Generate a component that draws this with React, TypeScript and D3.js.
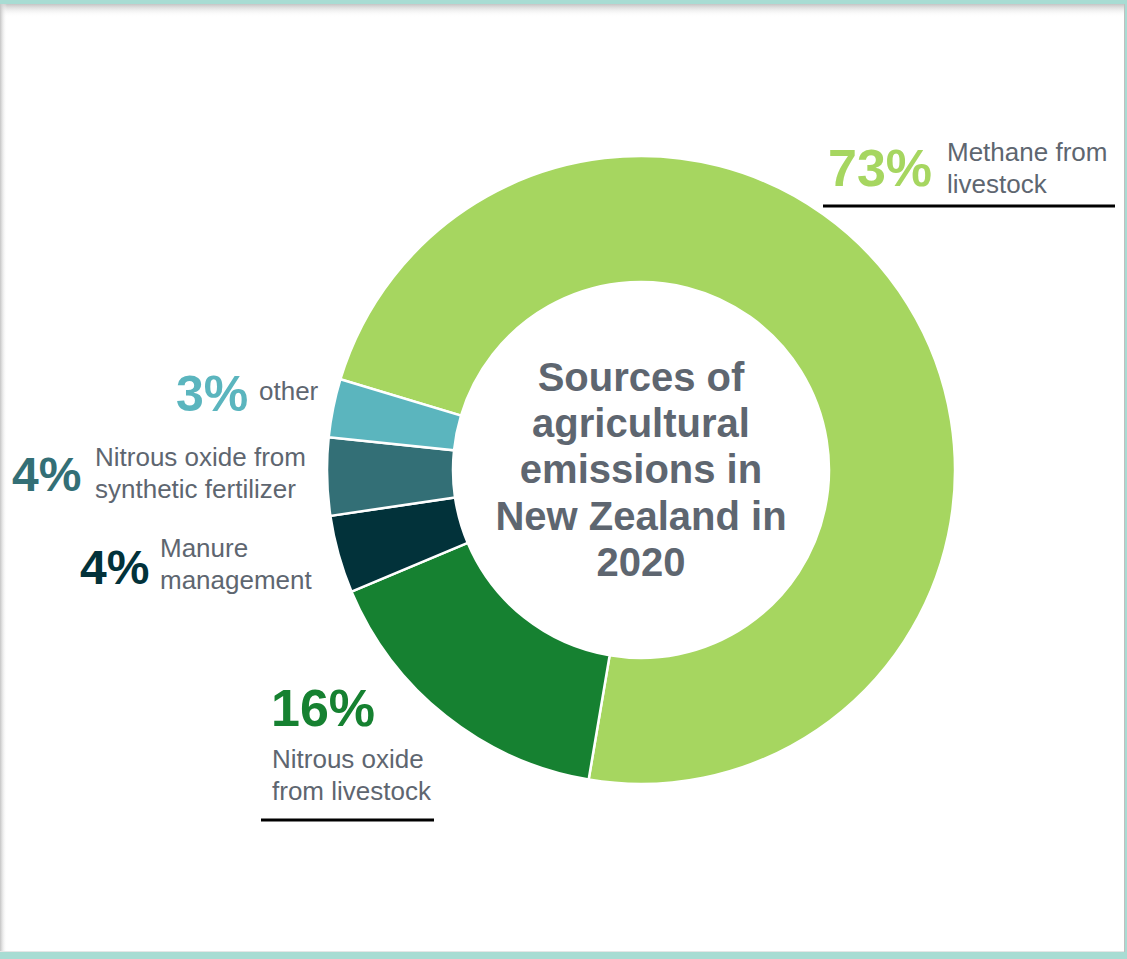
import React from "react";
import * as d3 from "d3";

const categories = [
  "Methane from livestock",
  "Nitrous oxide from livestock",
  "Manure management",
  "Nitrous oxide from synthetic fertilizer",
  "other",
];
const values = [73, 16, 4, 4, 3];
const colors = ["#A6D660", "#168131", "#02323A", "#336F76", "#5BB5BE"];
const percentLabels = ["73%", "16%", "4%", "4%", "3%"];
const titleLines = ["Sources of", "agricultural", "emissions in", "New Zealand in", "2020"];

const W = 1127;
const H = 959;

export default function App() {
  const cx = 641;
  const cy = 470;
  const outerR = 314;
  const innerR = 188;
  const start = (-73.2 * Math.PI) / 180;
  const pie = d3
    .pie<number>()
    .sort(null)
    .value((d) => d)
    .startAngle(start)
    .endAngle(start + 2 * Math.PI);
  const arcs = pie(values);
  const arcGen = d3.arc<d3.PieArcDatum<number>>().innerRadius(innerR).outerRadius(outerR);

  const textColor = "#5E6670";
  const font = "'Liberation Sans', Arial, sans-serif";
  const lf = 26;

  return (
    <div style={{ position: "absolute", left: 0, top: 0, width: W, height: H }}>
      <svg width={W} height={H} style={{ display: "block", fontFamily: font }}>
        <defs>
          <linearGradient id="shadowTop" x1="0" y1="0" x2="0" y2="1">
            <stop offset="0" stopColor="#c4c4c4" />
            <stop offset="1" stopColor="#ffffff" stopOpacity="0" />
          </linearGradient>
          <linearGradient id="shadowLeft" x1="0" y1="0" x2="1" y2="0">
            <stop offset="0" stopColor="#c4c4c4" />
            <stop offset="1" stopColor="#ffffff" stopOpacity="0" />
          </linearGradient>
        </defs>
        <rect x={0} y={0} width={W} height={H} fill="#ffffff" />
        <rect x={0} y={4} width={W - 3} height={13} fill="url(#shadowTop)" />
        <rect x={0} y={4} width={7} height={948} fill="url(#shadowLeft)" />
        <rect x={W - 3} y={0} width={1} height={H} fill="#bfbfbf" />
        <rect x={W - 2} y={0} width={2} height={H} fill="#A8DCD3" />
        <rect x={0} y={0} width={W} height={4} fill="#A8DCD3" />
        <rect x={0} y={952} width={W} height={7} fill="#A8DCD3" />
        <rect x={0} y={951} width={W - 3} height={1} fill="#e6e6e6" />

        <g transform={`translate(${cx},${cy})`}>
          {arcs.map((a, i) => (
            <path
              key={categories[i]}
              d={arcGen(a) || ""}
              fill={colors[i]}
              stroke="#ffffff"
              strokeWidth={2.5}
              strokeLinejoin="miter"
            />
          ))}
        </g>

        {/* center title */}
        <g fill={textColor} fontWeight="bold" fontSize={40} textAnchor="middle">
          {titleLines.map((t, i) => (
            <text key={t} x={cx} y={391 + i * 46.2}>
              {t}
            </text>
          ))}
        </g>

        {/* 73% methane */}
        <text x={828} y={186} fontSize={52} fontWeight="bold" fill={colors[0]}>
          {percentLabels[0]}
        </text>
        <text x={947} y={161} fontSize={lf} fill={textColor}>Methane from</text>
        <text x={947} y={193} fontSize={lf} fill={textColor}>livestock</text>
        <rect x={823} y={204.5} width={292} height={3} fill="#000000" />

        {/* 3% other */}
        <text x={176} y={411} fontSize={50} fontWeight="bold" fill={colors[4]}>
          {percentLabels[4]}
        </text>
        <text x={259} y={400} fontSize={lf} fill={textColor}>other</text>

        {/* 4% fertilizer */}
        <text x={12} y={491} fontSize={48} fontWeight="bold" fill={colors[3]}>
          {percentLabels[3]}
        </text>
        <text x={95} y={466} fontSize={lf} fill={textColor}>Nitrous oxide from</text>
        <text x={95} y={498} fontSize={lf} fill={textColor}>synthetic fertilizer</text>

        {/* 4% manure */}
        <text x={80} y={584} fontSize={48} fontWeight="bold" fill={colors[2]}>
          {percentLabels[2]}
        </text>
        <text x={160} y={557} fontSize={lf} fill={textColor}>Manure</text>
        <text x={160} y={589} fontSize={lf} fill={textColor}>management</text>

        {/* 16% nitrous livestock */}
        <text x={271} y={726} fontSize={52} fontWeight="bold" fill={colors[1]}>
          {percentLabels[1]}
        </text>
        <text x={272} y={768} fontSize={lf} fill={textColor}>Nitrous oxide</text>
        <text x={272} y={800} fontSize={lf} fill={textColor}>from livestock</text>
        <rect x={261} y={818.5} width={173} height={3} fill="#000000" />
      </svg>
    </div>
  );
}
